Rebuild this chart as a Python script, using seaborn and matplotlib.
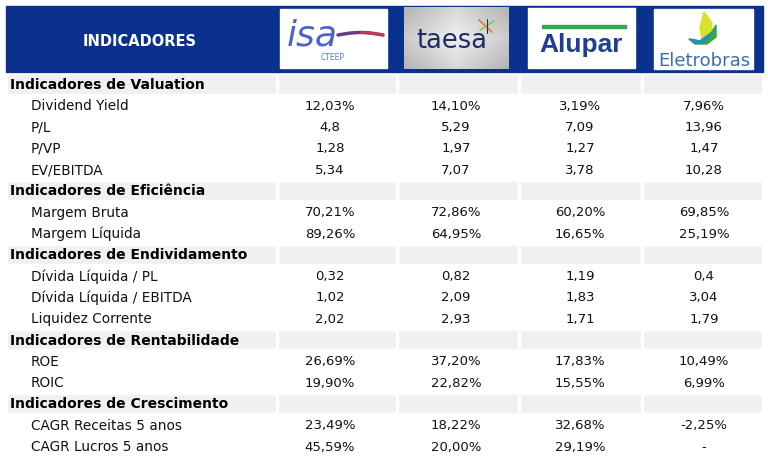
import matplotlib.pyplot as plt
import seaborn as sns
import numpy as np
from matplotlib.patches import Rectangle, Polygon

# dados da tabela
empresas = ["ISA CTEEP", "Taesa", "Alupar", "Eletrobras"]

secoes = ["Indicadores de Valuation", "Indicadores de Eficiência",
          "Indicadores de Endividamento", "Indicadores de Rentabilidade",
          "Indicadores de Crescimento"]

indicadores = [
    ["Dividend Yield", "P/L", "P/VP", "EV/EBITDA"],
    ["Margem Bruta", "Margem Líquida"],
    ["Dívida Líquida / PL", "Dívida Líquida / EBITDA", "Liquidez Corrente"],
    ["ROE", "ROIC"],
    ["CAGR Receitas 5 anos", "CAGR Lucros 5 anos"],
]

isa = ["12,03%", "4,8", "1,28", "5,34", "70,21%", "89,26%", "0,32", "1,02",
       "2,02", "26,69%", "19,90%", "23,49%", "45,59%"]
taesa = ["14,10%", "5,29", "1,97", "7,07", "72,86%", "64,95%", "0,82", "2,09",
         "2,93", "37,20%", "22,82%", "18,22%", "20,00%"]
alupar = ["3,19%", "7,09", "1,27", "3,78", "60,20%", "16,65%", "1,19", "1,83",
          "1,71", "17,83%", "15,55%", "32,68%", "29,19%"]
eletrobras = ["7,96%", "13,96", "1,47", "10,28", "69,85%", "25,19%", "0,4",
              "3,04", "1,79", "10,49%", "6,99%", "-2,25%", "-"]

valores = [isa, taesa, alupar, eletrobras]

sns.set_theme(style="white")
plt.rcParams['font.family'] = ['DejaVu Sans']

AZUL = "#0b318f"
CINZA = "#f0f0f0"

fig = plt.figure(figsize=(7.68, 4.60), dpi=100)
ax = fig.add_axes([0, 0, 1, 1])
ax.set_xlim(0, 768)
ax.set_ylim(460, 0)
ax.axis("off")

# cabeçalho
ax.add_patch(Rectangle((6, 7), 757, 66, color=AZUL, zorder=1))
ax.text(140, 41, "INDICADORES", color="white", fontsize=10.5, fontweight="bold",
        ha="center", va="center", zorder=3)

# caixas dos logos
caixas = [(280, 10, 107, 59), (404, 8, 105, 62), (528, 9, 107, 60), (654, 10, 99, 60)]
for i, (x0, y0, w, h) in enumerate(caixas):
    if i == 1:
        grad = np.abs(np.linspace(-1, 1, 60))[None, :] * 0.6 + np.abs(np.linspace(-1, 1, 40))[:, None] * 0.4
        ax.imshow(grad, cmap=sns.light_palette("#a8a8a8", as_cmap=True), vmin=0, vmax=1.2,
                  extent=(x0, x0 + w, y0 + h, y0), aspect="auto", zorder=2)
    else:
        ax.add_patch(Rectangle((x0, y0), w, h, color="white", zorder=2))

# isa CTEEP
ax.text(287, 35, "isa", color="#4b63c9", fontsize=26, style="italic",
        ha="left", va="center", zorder=3)
xs = np.linspace(338, 383, 30)
onda = 36 - 2.5 * np.sin((xs - 338) / 45 * np.pi)
ax.plot(xs, onda, color="#6a3a8a", lw=2.5, zorder=3)
ax.plot(xs[15:], onda[15:], color="#c23b4e", lw=2, zorder=3)
ax.text(333, 58, "CTEEP", color="#5b79b5", fontsize=5.5, ha="center", va="center", zorder=3)

# taesa
ax.text(452, 41, "taesa", color="#1e2d63", fontsize=18.5, ha="center", va="center", zorder=3)
ax.plot([479, 492], [21, 33], color="#e8792b", lw=1.2, zorder=4)
ax.plot([480, 494], [31, 22], color="#8cc63f", lw=1.2, zorder=4)
ax.plot([487, 487], [20, 34], color="#1e2d63", lw=0.8, zorder=4)

# Alupar
ax.add_patch(Rectangle((542, 26), 84, 3, color="#2fa84f", zorder=3))
ax.text(581, 45, "Alupar", color="#1d3f94", fontsize=19, fontweight="heavy",
        ha="center", va="center", zorder=3, family="Liberation Sans")

# Eletrobras
ax.add_patch(Polygon([[704, 13], [712, 24], [711, 34], [702, 40], [700, 28]],
                     closed=True, color="#d8e22a", zorder=3))
ax.add_patch(Polygon([[689, 40], [700, 42], [711, 34], [716, 26], [716, 38], [707, 45], [695, 45]],
                     closed=True, color="#3aa44a", zorder=3))
ax.add_patch(Polygon([[689, 40], [700, 42], [711, 34], [704, 43], [695, 44]],
                     closed=True, color="#1e8fcb", zorder=4))
ax.text(704, 61, "Eletrobras", color="#3a6db5", fontsize=13, ha="center", va="center", zorder=3)

# linhas da tabela
y0 = 85
passo = 21.3
col_bordas = [6, 277, 397, 519, 642, 763]
col_centros = [330, 456, 580, 704]

linha = 0
k = 0
for s, sec in enumerate(secoes):
    y = y0 + linha * passo
    for c in range(5):
        ax.barh(y, col_bordas[c + 1] - col_bordas[c] - 2, left=col_bordas[c] + 1,
                height=passo - 2, color=CINZA, zorder=1)
    ax.text(10, y, sec, fontsize=10, fontweight="bold", ha="left", va="center",
            color="black", zorder=3)
    linha += 1
    for nome in indicadores[s]:
        y = y0 + linha * passo
        ax.text(31, y, nome, fontsize=9.8, ha="left", va="center", color="#111111", zorder=3)
        for c in range(4):
            ax.text(col_centros[c], y, valores[c][k], fontsize=9.5, ha="center",
                    va="center", color="#111111", zorder=3)
        linha += 1
        k += 1

fig.savefig("out.png", dpi=100)
